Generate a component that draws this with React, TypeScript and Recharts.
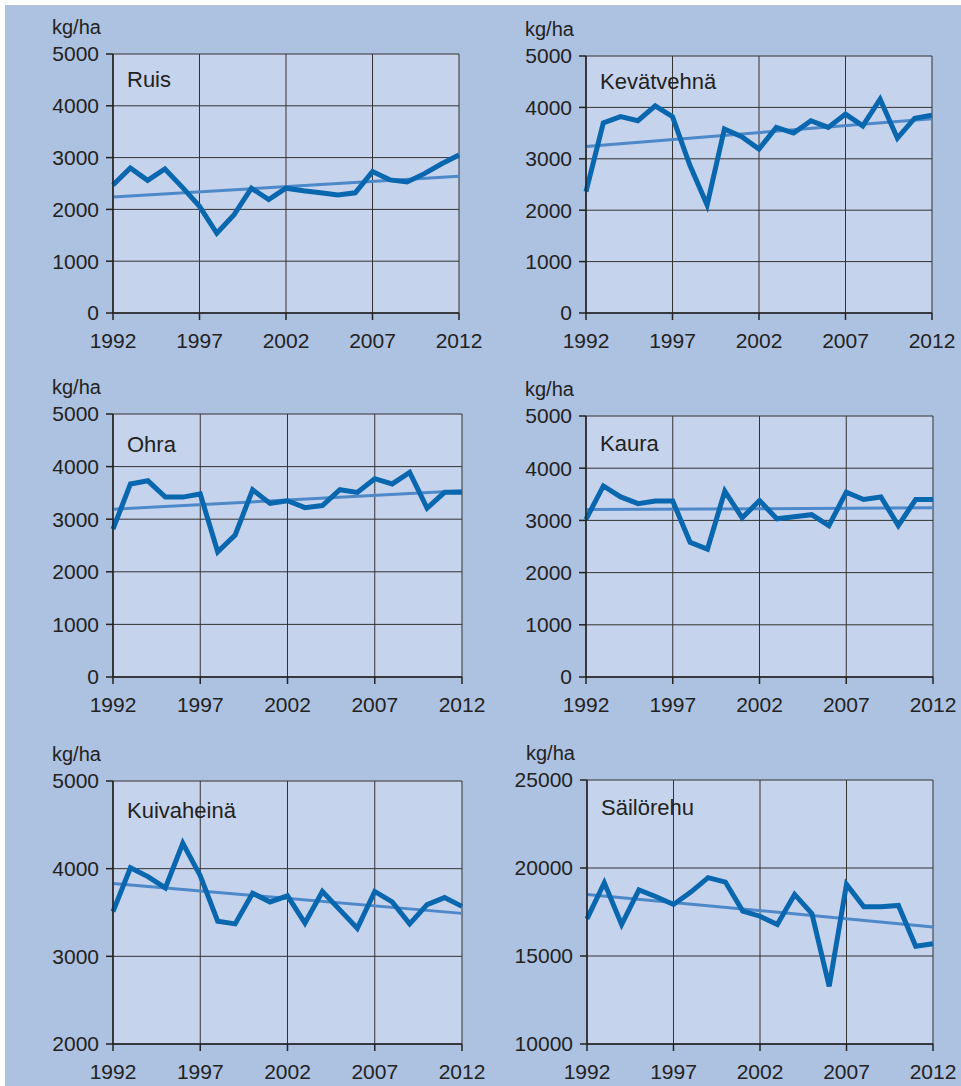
import React from 'react';
import { LineChart, Line, XAxis, YAxis, CartesianGrid } from 'recharts';

// Years on the x axis
const years = [
  1992, 1993, 1994, 1995, 1996, 1997, 1998, 1999, 2000, 2001, 2002,
  2003, 2004, 2005, 2006, 2007, 2008, 2009, 2010, 2011, 2012,
];
const yearTicks = [1992, 1997, 2002, 2007, 2012];

// Yields, kg/ha
const ruis = [2470, 2800, 2560, 2780, 2430, 2060, 1540, 1900, 2410, 2190, 2410, 2360, 2320, 2280, 2320, 2730, 2570, 2530, 2690, 2880, 3050];
const ruisTrend = [2240, 2640];

const kevatvehna = [2360, 3700, 3820, 3740, 4030, 3820, 2880, 2100, 3580, 3430, 3190, 3610, 3500, 3740, 3610, 3870, 3640, 4160, 3400, 3790, 3850];
const kevatvehnaTrend = [3240, 3780];

const ohra = [2810, 3670, 3730, 3420, 3420, 3480, 2380, 2700, 3560, 3300, 3350, 3220, 3260, 3560, 3510, 3770, 3670, 3890, 3210, 3510, 3510];
const ohraTrend = [3190, 3540];

const kaura = [3020, 3660, 3450, 3320, 3370, 3370, 2580, 2450, 3560, 3050, 3380, 3030, 3070, 3110, 2900, 3540, 3400, 3450, 2900, 3400, 3400];
const kauraTrend = [3210, 3240];

const kuivaheina = [3510, 4010, 3910, 3780, 4290, 3920, 3400, 3370, 3720, 3620, 3690, 3380, 3740, 3530, 3320, 3740, 3620, 3370, 3590, 3670, 3570];
const kuivaheinaTrend = [3830, 3490];

const sailorehu = [17110, 19160, 16790, 18750, 18370, 17930, 18630, 19450, 19200, 17550, 17260, 16790, 18500, 17410, 13270, 19070, 17800, 17800, 17870, 15550, 15700];
const sailorehuTrend = [18500, 16650];

const ticks0to5000 = [0, 1000, 2000, 3000, 4000, 5000];
const ticks2000to5000 = [2000, 3000, 4000, 5000];
const ticks10000to25000 = [10000, 15000, 20000, 25000];

const FONT = '"Liberation Sans", Arial, sans-serif';
const MAIN = '#0867AE';
const TREND = '#4D88C8';
const PLOT_BG = '#C6D3EC';
const PAGE_BG = '#ADC1E0';

const panels = [
  { title: 'Ruis', values: ruis, trend: ruisTrend, ticks: ticks0to5000, x: 113, y: 54, w: 346, h: 259, titleDy: 18 },
  { title: 'Kevätvehnä', values: kevatvehna, trend: kevatvehnaTrend, ticks: ticks0to5000, x: 586, y: 56, w: 346, h: 257, titleDy: 18 },
  { title: 'Ohra', values: ohra, trend: ohraTrend, ticks: ticks0to5000, x: 113, y: 414, w: 349, h: 263, titleDy: 23 },
  { title: 'Kaura', values: kaura, trend: kauraTrend, ticks: ticks0to5000, x: 586, y: 416, w: 347, h: 261, titleDy: 20 },
  { title: 'Kuivaheinä', values: kuivaheina, trend: kuivaheinaTrend, ticks: ticks2000to5000, x: 113, y: 781, w: 349, h: 263, titleDy: 22 },
  { title: 'Säilörehu', values: sailorehu, trend: sailorehuTrend, ticks: ticks10000to25000, x: 587, y: 780, w: 346, h: 264, titleDy: 20 },
];

const ML = 84;
const MT = 16;
const MR = 28;
const MB = 4;
const XH = 42;

function Panel({ p }: { p: (typeof panels)[number] }) {
  const data = years.map((year, i) => ({ year, value: p.values[i] }));
  const trendData = [
    { year: years[0], trend: p.trend[0] },
    { year: years[years.length - 1], trend: p.trend[1] },
  ];
  const tickStyle = { fill: '#222', fontSize: 21, fontFamily: FONT };

  return (
    <>
      <div
        style={{
          position: 'absolute',
          left: p.x - 61,
          top: p.y - 37,
          fontFamily: FONT,
          fontSize: 20,
          color: '#222',
          lineHeight: 1,
        }}
      >
        kg/ha
      </div>
      <div style={{ position: 'absolute', left: p.x - ML, top: p.y - MT }}>
        <LineChart
          width={p.w + ML + MR}
          height={p.h + MT + MB + XH}
          data={data}
          margin={{ top: MT, right: MR, bottom: MB, left: 0 }}
        >
          <CartesianGrid fill={PLOT_BG} stroke="#333" strokeWidth={1} fillOpacity={1} />
          <XAxis
            dataKey="year"
            type="number"
            domain={[1992, 2012]}
            ticks={yearTicks}
            interval={0}
            height={XH}
            tick={tickStyle}
            tickSize={7}
            tickMargin={13}
            axisLine={{ stroke: '#222', strokeWidth: 1.5 }}
            tickLine={{ stroke: '#222', strokeWidth: 1.5 }}
          />
          <YAxis
            type="number"
            domain={[p.ticks[0], p.ticks[p.ticks.length - 1]]}
            ticks={p.ticks}
            interval={0}
            width={ML}
            tick={tickStyle}
            tickSize={7}
            tickMargin={7}
            axisLine={{ stroke: '#222', strokeWidth: 1.5 }}
            tickLine={{ stroke: '#222', strokeWidth: 1.5 }}
          />
          <Line
            data={trendData}
            dataKey="trend"
            stroke={TREND}
            strokeWidth={3}
            dot={false}
            isAnimationActive={false}
          />
          <Line
            dataKey="value"
            stroke={MAIN}
            strokeWidth={5}
            dot={false}
            isAnimationActive={false}
          />
        </LineChart>
      </div>
      <div
        style={{
          position: 'absolute',
          left: p.x + 14,
          top: p.y + p.titleDy - 3,
          fontFamily: FONT,
          fontSize: 22,
          color: '#222',
          lineHeight: 1,
        }}
      >
        {p.title}
      </div>
    </>
  );
}

export default function App() {
  return (
    <div style={{ position: 'absolute', left: 0, top: 0, width: 961, height: 1086, background: '#fff' }}>
      <div style={{ position: 'absolute', left: 5, top: 5, width: 956, height: 1081, background: PAGE_BG }} />
      {panels.map((p) => (
        <Panel key={p.title} p={p} />
      ))}
    </div>
  );
}
